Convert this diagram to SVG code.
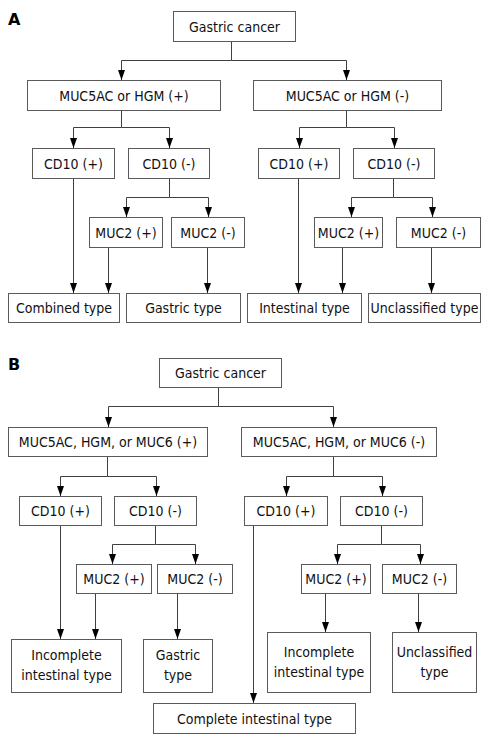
<svg xmlns="http://www.w3.org/2000/svg" width="492" height="741" viewBox="0 0 492 741">
<style>
.bx rect{fill:#fff;stroke:#5a5a5a;stroke-width:1}
.bx text{font-family:"DejaVu Sans Condensed","DejaVu Sans",sans-serif;font-stretch:condensed;font-size:14px;fill:#111;text-anchor:middle}
.lbl{font-family:"DejaVu Sans","Liberation Sans",sans-serif;font-size:16px;font-weight:bold;fill:#000}
#connectors path{fill:none;stroke:#404040;stroke-width:1}
</style>
<defs>
<marker id="ah" markerUnits="userSpaceOnUse" markerWidth="10" markerHeight="7" refX="10" refY="3.5" orient="auto">
<path d="M0,0 L10,3.5 L0,7 z" fill="#000"/>
</marker>
</defs>
<rect width="492" height="741" fill="#fff"/>
<text class="lbl" x="8" y="25">A</text>
<text class="lbl" x="8" y="370">B</text>
<g id="connectors">
<path d="M231.5,41 V60.5 H121.5 V80" marker-end="url(#ah)"/>
<path d="M231.5,60.5 H346.5 V80" marker-end="url(#ah)"/>
<path d="M121.5,110 V127.5 H73.5 V148" marker-end="url(#ah)"/>
<path d="M121.5,127.5 H169.5 V148" marker-end="url(#ah)"/>
<path d="M346.5,110 V127.5 H299.5 V148" marker-end="url(#ah)"/>
<path d="M346.5,127.5 H394.5 V148" marker-end="url(#ah)"/>
<path d="M73.5,178 V293" marker-end="url(#ah)"/>
<path d="M169.5,178 V197.5 H126.5 V217" marker-end="url(#ah)"/>
<path d="M169.5,197.5 H208.5 V217" marker-end="url(#ah)"/>
<path d="M108.5,247 V293" marker-end="url(#ah)"/>
<path d="M207.5,247 V293" marker-end="url(#ah)"/>
<path d="M298.5,178 V293" marker-end="url(#ah)"/>
<path d="M393.5,178 V197.5 H351.5 V217" marker-end="url(#ah)"/>
<path d="M393.5,197.5 H432.5 V217" marker-end="url(#ah)"/>
<path d="M342.5,247 V293" marker-end="url(#ah)"/>
<path d="M431.5,247 V293" marker-end="url(#ah)"/>
<path d="M218.5,388 V406.5 H108.5 V427" marker-end="url(#ah)"/>
<path d="M218.5,406.5 H333.5 V427" marker-end="url(#ah)"/>
<path d="M107.5,457 V476.5 H60.5 V496" marker-end="url(#ah)"/>
<path d="M107.5,476.5 H156.5 V496" marker-end="url(#ah)"/>
<path d="M333.5,457 V476.5 H286.5 V496" marker-end="url(#ah)"/>
<path d="M333.5,476.5 H382.5 V496" marker-end="url(#ah)"/>
<path d="M60.5,526 V639" marker-end="url(#ah)"/>
<path d="M155.5,526 V544.5 H112.5 V564" marker-end="url(#ah)"/>
<path d="M155.5,544.5 H195.5 V564" marker-end="url(#ah)"/>
<path d="M95.5,594 V639" marker-end="url(#ah)"/>
<path d="M177.5,594 V639" marker-end="url(#ah)"/>
<path d="M253.5,526 V703" marker-end="url(#ah)"/>
<path d="M381.5,526 V544.5 H337.5 V564" marker-end="url(#ah)"/>
<path d="M381.5,544.5 H420.5 V564" marker-end="url(#ah)"/>
<path d="M325.5,594 V632" marker-end="url(#ah)"/>
<path d="M418.5,594 V632" marker-end="url(#ah)"/>
</g>
<g id="a-gastric-cancer" class="bx"><rect x="173.5" y="11.5" width="122" height="30"/><text x="234.5" y="31.5">Gastric cancer</text></g>
<g id="a-muc5ac-pos" class="bx"><rect x="27.5" y="80.5" width="193" height="30"/><text x="124" y="100.5">MUC5AC or HGM (+)</text></g>
<g id="a-muc5ac-neg" class="bx"><rect x="253.5" y="80.5" width="188" height="30"/><text x="347.5" y="100.5">MUC5AC or HGM (-)</text></g>
<g id="a-cd10-pos-l" class="bx"><rect x="32.5" y="148.5" width="82" height="30"/><text x="73.5" y="168.5">CD10 (+)</text></g>
<g id="a-cd10-neg-l" class="bx"><rect x="128.5" y="148.5" width="81" height="30"/><text x="169" y="168.5">CD10 (-)</text></g>
<g id="a-cd10-pos-r" class="bx"><rect x="258.5" y="148.5" width="81" height="30"/><text x="299" y="168.5">CD10 (+)</text></g>
<g id="a-cd10-neg-r" class="bx"><rect x="353.5" y="148.5" width="81" height="30"/><text x="394" y="168.5">CD10 (-)</text></g>
<g id="a-muc2-pos-l" class="bx"><rect x="89.5" y="217.5" width="73" height="30"/><text x="126" y="237.5">MUC2 (+)</text></g>
<g id="a-muc2-neg-l" class="bx"><rect x="171.5" y="217.5" width="73" height="30"/><text x="208" y="237.5">MUC2 (-)</text></g>
<g id="a-muc2-pos-r" class="bx"><rect x="314.5" y="217.5" width="68" height="30"/><text x="348.5" y="237.5">MUC2 (+)</text></g>
<g id="a-muc2-neg-r" class="bx"><rect x="396.5" y="217.5" width="84" height="30"/><text x="438.5" y="237.5">MUC2 (-)</text></g>
<g id="a-combined" class="bx"><rect x="8.5" y="293.5" width="111" height="29"/><text x="64" y="313">Combined type</text></g>
<g id="a-gastric-type" class="bx"><rect x="126.5" y="293.5" width="114" height="29"/><text x="183.5" y="313">Gastric type</text></g>
<g id="a-intestinal" class="bx"><rect x="247.5" y="293.5" width="114" height="29"/><text x="304.5" y="313">Intestinal type</text></g>
<g id="a-unclassified" class="bx"><rect x="368.5" y="293.5" width="112" height="29"/><text x="424.5" y="313">Unclassified type</text></g>
<g id="b-gastric-cancer" class="bx"><rect x="159.5" y="358.5" width="122" height="29"/><text x="220.5" y="378">Gastric cancer</text></g>
<g id="b-muc-pos" class="bx"><rect x="8.5" y="427.5" width="199" height="29"/><text x="108" y="447">MUC5AC, HGM, or MUC6 (+)</text></g>
<g id="b-muc-neg" class="bx"><rect x="241.5" y="427.5" width="195" height="29"/><text x="339" y="447">MUC5AC, HGM, or MUC6 (-)</text></g>
<g id="b-cd10-pos-l" class="bx"><rect x="19.5" y="496.5" width="82" height="29"/><text x="60.5" y="516">CD10 (+)</text></g>
<g id="b-cd10-neg-l" class="bx"><rect x="114.5" y="496.5" width="82" height="29"/><text x="155.5" y="516">CD10 (-)</text></g>
<g id="b-cd10-pos-r" class="bx"><rect x="244.5" y="496.5" width="83" height="29"/><text x="286" y="516">CD10 (+)</text></g>
<g id="b-cd10-neg-r" class="bx"><rect x="340.5" y="496.5" width="82" height="29"/><text x="381.5" y="516">CD10 (-)</text></g>
<g id="b-muc2-pos-l" class="bx"><rect x="76.5" y="564.5" width="75" height="29"/><text x="114" y="584">MUC2 (+)</text></g>
<g id="b-muc2-neg-l" class="bx"><rect x="157.5" y="564.5" width="75" height="29"/><text x="195" y="584">MUC2 (-)</text></g>
<g id="b-muc2-pos-r" class="bx"><rect x="301.5" y="564.5" width="69" height="29"/><text x="336" y="584">MUC2 (+)</text></g>
<g id="b-muc2-neg-r" class="bx"><rect x="382.5" y="564.5" width="74" height="29"/><text x="419.5" y="584">MUC2 (-)</text></g>
<g id="b-incomplete-l" class="bx"><rect x="11.5" y="639.5" width="110" height="53"/><text x="66.5" y="660">Incomplete</text><text x="66.5" y="680">intestinal type</text></g>
<g id="b-gastric-type" class="bx"><rect x="143.5" y="639.5" width="69" height="53"/><text x="178" y="660">Gastric</text><text x="178" y="680">type</text></g>
<g id="b-incomplete-r" class="bx"><rect x="267.5" y="632.5" width="103" height="60"/><text x="319" y="656.5">Incomplete</text><text x="319" y="676.5">intestinal type</text></g>
<g id="b-unclassified" class="bx"><rect x="392.5" y="632.5" width="84" height="60"/><text x="434.5" y="656.5">Unclassified</text><text x="434.5" y="676.5">type</text></g>
<g id="b-complete" class="bx"><rect x="153.5" y="703.5" width="202" height="30"/><text x="254.5" y="723.5">Complete intestinal type</text></g>
</svg>
